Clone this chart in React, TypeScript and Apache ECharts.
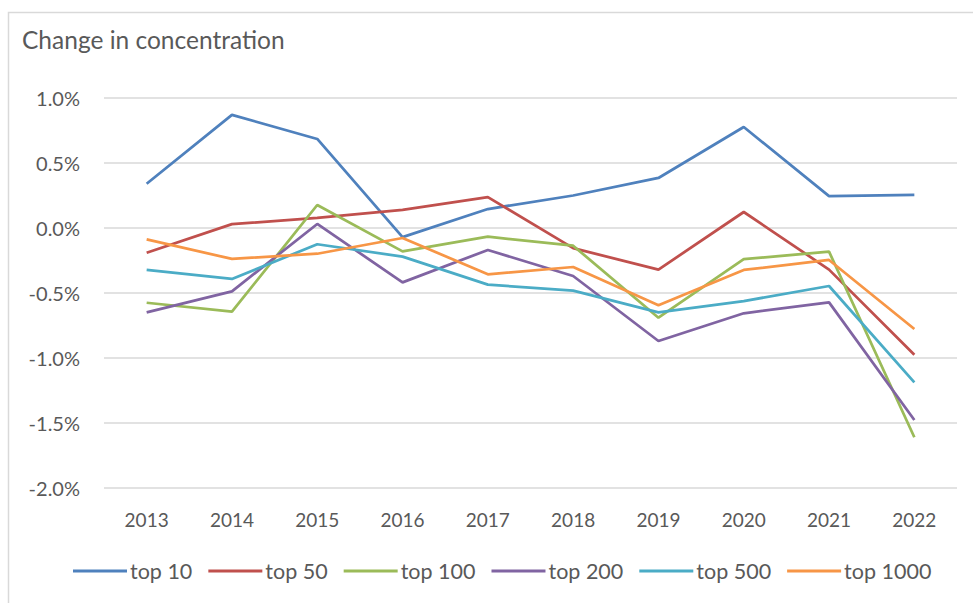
import React, { useEffect, useRef } from "react";
import * as echarts from "echarts";

const years = ["2013", "2014", "2015", "2016", "2017", "2018", "2019", "2020", "2021", "2022"];
const top10 = [0.34, 0.87, 0.685, -0.07, 0.146, 0.25, 0.385, 0.777, 0.245, 0.254];
const top50 = [-0.19, 0.03, 0.077, 0.14, 0.238, -0.155, -0.32, 0.123, -0.32, -0.975];
const top100 = [-0.575, -0.644, 0.177, -0.18, -0.067, -0.136, -0.69, -0.24, -0.182, -1.61];
const top200 = [-0.649, -0.487, 0.031, -0.418, -0.169, -0.369, -0.869, -0.656, -0.572, -1.477];
const top500 = [-0.323, -0.392, -0.125, -0.22, -0.436, -0.482, -0.649, -0.562, -0.446, -1.187];
const top1000 = [-0.087, -0.238, -0.198, -0.077, -0.356, -0.3, -0.595, -0.323, -0.246, -0.777];

const seriesNames = ["top 10", "top 50", "top 100", "top 200", "top 500", "top 1000"];
const seriesData = [top10, top50, top100, top200, top500, top1000];
const colors = ["#4F81BD", "#C0504D", "#9BBB59", "#8064A2", "#4BACC6", "#F79646"];

const FONT = "Lato, 'Open Sans', sans-serif";
const TEXT = "#595959";

export default function App() {
  const ref = useRef<HTMLDivElement>(null);
  useEffect(() => {
    if (!ref.current) return;
    const chart = echarts.init(ref.current, undefined, { renderer: "svg" });
    chart.setOption({
      animation: false,
      backgroundColor: "#ffffff",
      color: colors,
      title: {
        text: "Change in concentration",
        left: 22,
        top: 27,
        padding: 0,
        textStyle: { fontFamily: FONT, fontSize: 24.5, fontWeight: "normal", color: TEXT },
      },
      graphic: [
        {
          type: "rect",
          shape: { x: 8.5, y: 12.5, width: 990, height: 620 },
          style: { fill: "none", stroke: "#d9d9d9", lineWidth: 1.5 },
          silent: true,
        },
      ],
      grid: { left: 104, right: 16, top: 98, bottom: 115 },
      legend: {
        left: 73,
        top: 560,
        padding: 0,
        icon: "rect",
        itemWidth: 54,
        itemHeight: 3,
        itemGap: 16,
        textStyle: { fontFamily: FONT, fontSize: 21.5, color: TEXT, padding: [0, 0, 0, -2] },
        data: seriesNames,
      },
      xAxis: {
        type: "category",
        data: years,
        boundaryGap: true,
        axisLine: { show: false },
        axisTick: { show: false },
        axisLabel: { fontFamily: FONT, fontSize: 19, color: TEXT, margin: 22 },
      },
      yAxis: {
        type: "value",
        min: -2,
        max: 1,
        interval: 0.5,
        axisLine: { show: false },
        axisTick: { show: false },
        splitLine: { lineStyle: { color: "#d9d9d9", width: 1.5 } },
        axisLabel: {
          fontFamily: FONT,
          fontSize: 20,
          color: TEXT,
          margin: 24,
          formatter: (v: number) => `${v.toFixed(1)}%`,
        },
      },
      series: seriesNames.map((name, i) => ({
        name,
        type: "line",
        data: seriesData[i],
        symbol: "none",
        lineStyle: { width: 2.75, color: colors[i] },
        itemStyle: { color: colors[i] },
      })),
    });
    return () => chart.dispose();
  }, []);
  return (
    <div
      ref={ref}
      style={{ position: "fixed", left: 0, top: 0, width: 973, height: 603 }}
    />
  );
}
